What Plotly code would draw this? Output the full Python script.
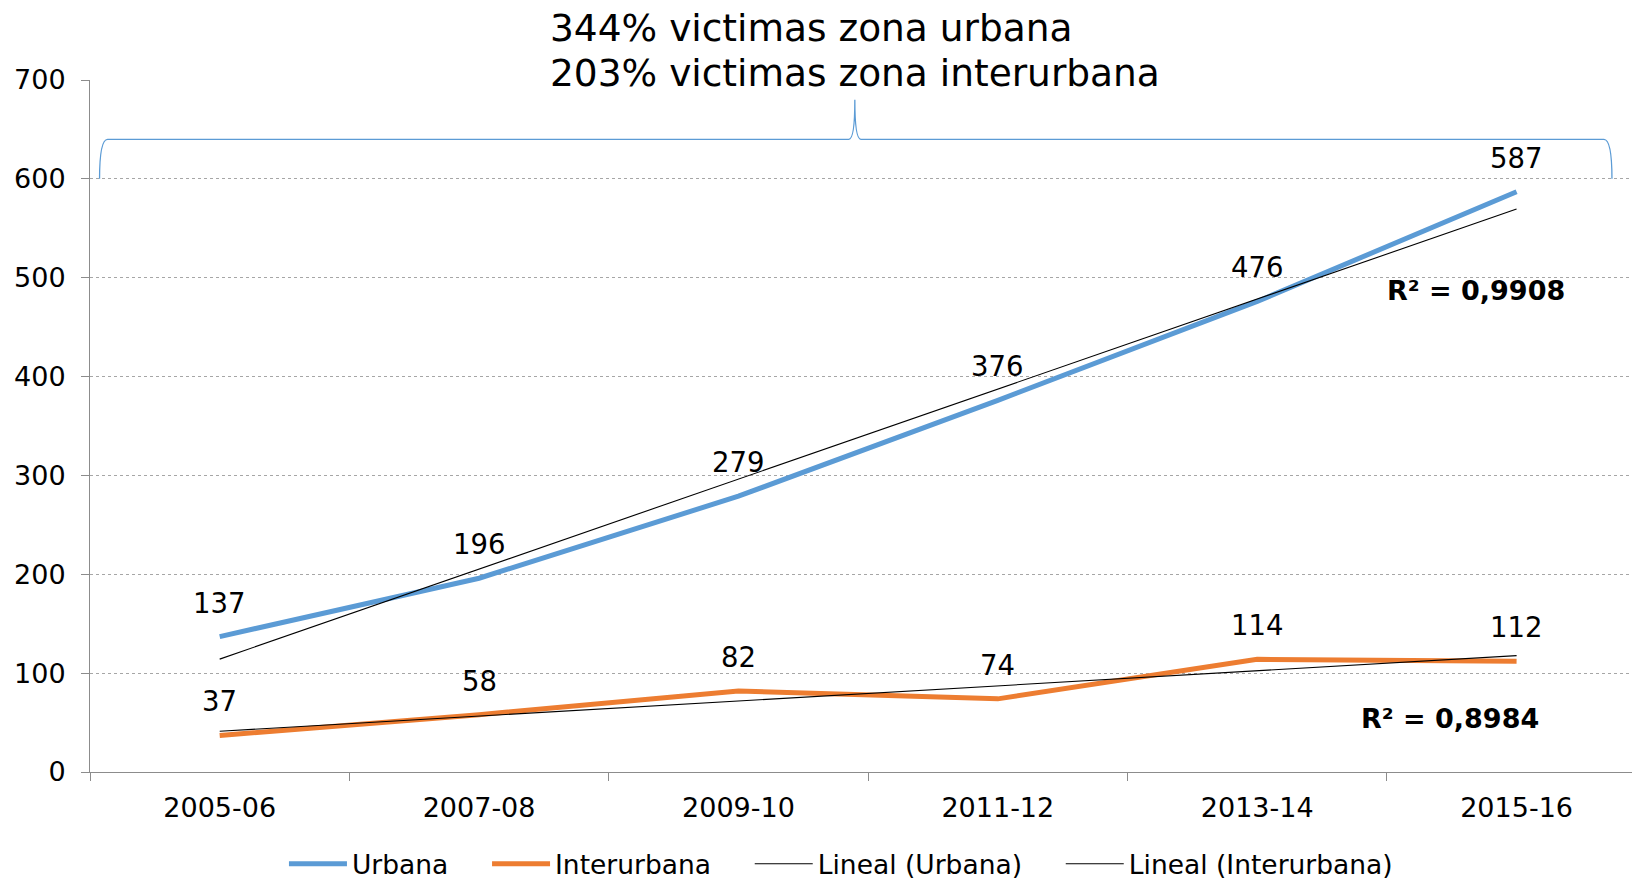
import numpy as np
import plotly.graph_objects as go

categories = ["2005-06", "2007-08", "2009-10", "2011-12", "2013-14", "2015-16"]
urbana = [137, 196, 279, 376, 476, 587]
interurbana = [37, 58, 82, 74, 114, 112]
r2_urbana = "R² = 0,9908"
r2_inter = "R² = 0,8984"
title_lines = ["344% victimas zona urbana", "203% victimas zona interurbana"]
y_ticks = [0, 100, 200, 300, 400, 500, 600, 700]
legend_names = ["Urbana", "Interurbana", "Lineal (Urbana)", "Lineal (Interurbana)"]

FONT = "DejaVu Sans"
BLUE = "#5B9BD5"
ORANGE = "#ED7D31"
PAD = "\u00a0" * 4

idx = np.arange(len(categories))
fit_u = np.polyval(np.polyfit(idx, urbana, 1), idx)
fit_i = np.polyval(np.polyfit(idx, interurbana, 1), idx)

fig = go.Figure()
fig.add_trace(go.Scatter(x=categories, y=urbana, mode="lines", name=legend_names[0] + PAD,
                         line=dict(color=BLUE, width=5)))
fig.add_trace(go.Scatter(x=categories, y=interurbana, mode="lines", name=legend_names[1] + PAD,
                         line=dict(color=ORANGE, width=5)))
fig.add_trace(go.Scatter(x=categories, y=fit_u, mode="lines", name=legend_names[2] + PAD,
                         line=dict(color="black", width=1.1)))
fig.add_trace(go.Scatter(x=categories, y=fit_i, mode="lines", name=legend_names[3],
                         line=dict(color="black", width=1.1)))

annotations = []
for series in (urbana, interurbana):
    for c, v in zip(categories, series):
        annotations.append(dict(x=c, y=v, xref="x", yref="y", text=str(v), showarrow=False,
                                xanchor="center", yshift=34,
                                font=dict(family=FONT, size=27.5, color="black")))

annotations.append(dict(x=0.899, y=486.6, xref="paper", yref="y", text="<b>%s</b>" % r2_urbana,
                        showarrow=False, xanchor="center",
                        font=dict(family=FONT, size=27, color="black")))
annotations.append(dict(x=0.882, y=54.6, xref="paper", yref="y", text="<b>%s</b>" % r2_inter,
                        showarrow=False, xanchor="center",
                        font=dict(family=FONT, size=27, color="black")))
annotations.append(dict(x=0.297, y=1.075, xref="paper", yref="paper", text=title_lines[0],
                        showarrow=False, xanchor="left", yanchor="middle",
                        font=dict(family=FONT, size=37.5, color="black")))
annotations.append(dict(x=0.297, y=1.010, xref="paper", yref="paper", text=title_lines[1],
                        showarrow=False, xanchor="left", yanchor="middle",
                        font=dict(family=FONT, size=37.5, color="black")))

# curly brace decoration
x0, x1, xc = 0.0062, 0.987, 0.496
d, d2 = 0.0052, 0.0039
path = (f"M {x0},600 Q {x0},640 {x0+d},640 L {xc-d2},640 Q {xc},640 {xc},680 "
        f"Q {xc},640 {xc+d2},640 L {x1-d},640 Q {x1},640 {x1},600")
fig.add_shape(type="path", path=path, xref="paper", yref="y",
              line=dict(color=BLUE, width=1.3))

fig.update_layout(
    width=1632, height=879,
    margin=dict(l=90, r=0, t=80, b=107),
    paper_bgcolor="white", plot_bgcolor="white",
    font=dict(family=FONT, size=27, color="black"),
    annotations=annotations,
    showlegend=True,
    legend=dict(orientation="h", x=0.487, xanchor="center",
                yref="container", y=0.017, yanchor="middle",
                itemwidth=58, font=dict(family=FONT, size=26.5, color="black")),
    xaxis=dict(type="category", range=[-0.5, 5.445], showgrid=False,
               showline=True, linecolor="#8C8C8C", linewidth=1,
               ticks="outside", tickson="boundaries", ticklen=8, tickcolor="#8C8C8C",
               ticklabelstandoff=12, tickfont=dict(family=FONT, size=27)),
    yaxis=dict(range=[0, 700], tickvals=y_ticks, showgrid=True, gridcolor="#A6A6A6",
               griddash="dot", gridwidth=1, zeroline=False,
               showline=True, linecolor="#8C8C8C", linewidth=1,
               ticks="outside", ticklen=8, tickcolor="#8C8C8C",
               ticklabelstandoff=10, tickfont=dict(family=FONT, size=27)),
)

fig.write_html("out.html", config={"displayModeBar": False},
               post_script="document.body.style.margin='0';document.body.style.overflow='hidden';")
